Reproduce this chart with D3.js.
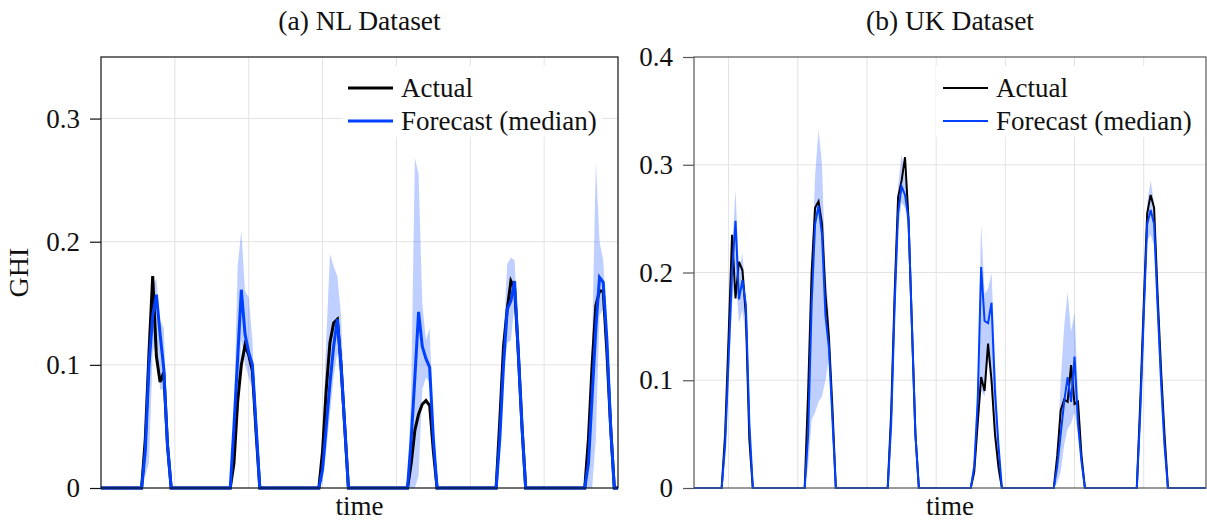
<!DOCTYPE html>
<html><head><meta charset="utf-8">
<script src="https://cdn.jsdelivr.net/npm/d3@7"></script>
<style>
body{margin:0;background:#fff}
svg{display:block}
text{font-family:"Liberation Serif","Times New Roman",serif;fill:#111}
</style>
</head><body>
<svg id="c" width="1207" height="521"></svg>
<script>
// ---------------- DATA ----------------
const legendLabels = ["Actual", "Forecast (median)"];
const xLabel = "time";
const yLabel = "GHI";

// NL dataset: hourly time axis, daylight segments (values after each zero start hour)
const nlTitle = "(a) NL Dataset";
const nlHours = [0, 140];
const nlXGrid = [20, 40, 60, 80, 100, 120];
const nlYTicks = [0, 0.1, 0.2, 0.3];
const nlYMax = 0.35;
const nlDayStart = [11, 35, 59, 83, 107, 131];
const nlActual = [
  [0.04, 0.11, 0.172, 0.107, 0.086, 0.094, 0.035],
  [0.02, 0.07, 0.10, 0.116, 0.108, 0.095, 0.045],
  [0.03, 0.08, 0.118, 0.134, 0.137, 0.10, 0.05],
  [0.02, 0.047, 0.06, 0.068, 0.071, 0.067, 0.03],
  [0.055, 0.115, 0.145, 0.168, 0.162, 0.11, 0.05],
  [0.04, 0.10, 0.148, 0.16, 0.16, 0.11, 0.05]
];
const nlMedian = [
  [0.03, 0.10, 0.14, 0.157, 0.125, 0.097, 0.035],
  [0.05, 0.105, 0.161, 0.125, 0.11, 0.10, 0.05],
  [0.015, 0.05, 0.085, 0.115, 0.137, 0.10, 0.05],
  [0.04, 0.09, 0.143, 0.115, 0.105, 0.098, 0.04],
  [0.04, 0.10, 0.145, 0.152, 0.168, 0.11, 0.05],
  [0.02, 0.075, 0.13, 0.171, 0.167, 0.12, 0.05]
];
const nlLower = [
  [0.01, 0.02, 0.11, 0.12, 0.08, 0.08, 0.02],
  [0.02, 0.06, 0.12, 0.10, 0.09, 0.08, 0.03],
  [0.005, 0.03, 0.06, 0.09, 0.11, 0.08, 0.03],
  [0.0, 0.0, 0.01, 0.08, 0.09, 0.085, 0.03],
  [0.03, 0.09, 0.118, 0.12, 0.15, 0.10, 0.04],
  [0.0, 0.0, 0.04, 0.14, 0.145, 0.10, 0.03]
];
const nlUpper = [
  [0.04, 0.13, 0.165, 0.17, 0.136, 0.13, 0.04],
  [0.06, 0.18, 0.209, 0.16, 0.155, 0.12, 0.05],
  [0.04, 0.12, 0.19, 0.18, 0.172, 0.14, 0.06],
  [0.08, 0.268, 0.255, 0.15, 0.12, 0.13, 0.05],
  [0.06, 0.12, 0.182, 0.187, 0.185, 0.12, 0.05],
  [0.04, 0.12, 0.265, 0.20, 0.185, 0.13, 0.05]
];

// UK dataset
const ukTitle = "(b) UK Dataset";
const ukHours = [0, 148];
const ukXGrid = [10, 30, 50, 70, 90, 110, 130];
const ukYTicks = [0, 0.1, 0.2, 0.3, 0.4];
const ukYMax = 0.4;
const ukDayStart = [8, 32, 56, 80, 104, 128];
const ukActual = [
  [0.05, 0.14, 0.235, 0.176, 0.21, 0.202, 0.16, 0.045],
  [0.09, 0.20, 0.26, 0.266, 0.245, 0.18, 0.14, 0.075],
  [0.07, 0.18, 0.27, 0.285, 0.307, 0.25, 0.15, 0.05],
  [0.015, 0.06, 0.103, 0.09, 0.134, 0.10, 0.05, 0.02],
  [0.03, 0.072, 0.082, 0.08, 0.114, 0.078, 0.08, 0.03],
  [0.08, 0.17, 0.255, 0.272, 0.26, 0.18, 0.11, 0.05]
];
const ukMedian = [
  [0.04, 0.12, 0.20, 0.248, 0.175, 0.193, 0.17, 0.06],
  [0.05, 0.17, 0.245, 0.262, 0.235, 0.16, 0.13, 0.065],
  [0.06, 0.17, 0.255, 0.28, 0.272, 0.25, 0.15, 0.05],
  [0.02, 0.08, 0.205, 0.155, 0.153, 0.172, 0.09, 0.04],
  [0.02, 0.05, 0.08, 0.103, 0.08, 0.122, 0.06, 0.025],
  [0.07, 0.16, 0.245, 0.258, 0.245, 0.17, 0.10, 0.04]
];
const ukLower = [
  [0.03, 0.10, 0.17, 0.20, 0.153, 0.165, 0.14, 0.03],
  [0.02, 0.063, 0.07, 0.08, 0.085, 0.10, 0.12, 0.05],
  [0.05, 0.16, 0.24, 0.265, 0.26, 0.24, 0.14, 0.04],
  [0.01, 0.05, 0.09, 0.085, 0.12, 0.09, 0.04, 0.01],
  [0.005, 0.015, 0.04, 0.055, 0.06, 0.07, 0.05, 0.02],
  [0.06, 0.14, 0.23, 0.235, 0.225, 0.15, 0.08, 0.03]
];
const ukUpper = [
  [0.05, 0.14, 0.22, 0.277, 0.20, 0.218, 0.175, 0.06],
  [0.10, 0.20, 0.29, 0.332, 0.30, 0.20, 0.16, 0.075],
  [0.07, 0.20, 0.28, 0.31, 0.29, 0.26, 0.16, 0.06],
  [0.03, 0.10, 0.245, 0.18, 0.185, 0.20, 0.12, 0.05],
  [0.03, 0.10, 0.15, 0.182, 0.145, 0.163, 0.09, 0.04],
  [0.09, 0.18, 0.265, 0.285, 0.265, 0.19, 0.12, 0.05]
];

// ---------------- BUILD ----------------
function expand(range, starts, segs) {
  const out = [];
  for (let h = range[0]; h <= range[1]; h++) out.push({h: h, v: 0});
  starts.forEach((s, i) => {
    segs[i].forEach((v, k) => {
      const idx = s + 1 + k - range[0];
      if (idx >= 0 && idx < out.length) out[idx].v = v;
    });
  });
  return out;
}

const svg = d3.select("#c");
const BLUE = "#0040ff";

const panels = [
  {title: nlTitle, hours: nlHours, xGrid: nlXGrid, yTicks: nlYTicks, yMax: nlYMax,
   starts: nlDayStart, actual: nlActual, median: nlMedian, lower: nlLower, upper: nlUpper,
   left: 101, right: 618, top: 57, bottom: 488, lw: 3, frame: "#111", showY: true,
   legend: {x0: 343, x1: 602, lineX: 348, lineW: 45}},
  {title: ukTitle, hours: ukHours, xGrid: ukXGrid, yTicks: ukYTicks, yMax: ukYMax,
   starts: ukDayStart, actual: ukActual, median: ukMedian, lower: ukLower, upper: ukUpper,
   left: 694, right: 1206, top: 57, bottom: 488, lw: 2, frame: "#555", showY: false,
   legend: {x0: 936, x1: 1205, lineX: 943, lineW: 45}}
];

panels.forEach((p, pi) => {
  const x = d3.scaleLinear().domain(p.hours).range([p.left, p.right]);
  const y = d3.scaleLinear().domain([0, p.yMax]).range([p.bottom, p.top]);
  const g = svg.append("g");
  const clipId = "clip" + pi;
  svg.append("clipPath").attr("id", clipId).append("rect")
    .attr("x", p.left).attr("y", p.top - 2).attr("width", p.right - p.left).attr("height", p.bottom - p.top + 4);

  // grid
  g.append("g").selectAll("line.hg").data(p.yTicks.filter(d => d > 0 && d < p.yMax)).join("line")
    .attr("x1", p.left).attr("x2", p.right).attr("y1", d => y(d)).attr("y2", d => y(d))
    .attr("stroke", "#e3e3e3").attr("stroke-width", 1);
  g.append("g").selectAll("line.vg").data(p.xGrid).join("line")
    .attr("x1", d => x(d)).attr("x2", d => x(d)).attr("y1", p.top).attr("y2", p.bottom)
    .attr("stroke", "#e3e3e3").attr("stroke-width", 1);

  const act = expand(p.hours, p.starts, p.actual);
  const med = expand(p.hours, p.starts, p.median);
  const lo = expand(p.hours, p.starts, p.lower);
  const up = expand(p.hours, p.starts, p.upper);
  const band = lo.map((d, i) => ({h: d.h, lo: d.v, up: up[i].v}));

  const plot = g.append("g").attr("clip-path", `url(#${clipId})`);
  plot.append("path").datum(band)
    .attr("d", d3.area().x(d => x(d.h)).y0(d => y(d.lo)).y1(d => y(d.up)))
    .attr("fill", BLUE).attr("fill-opacity", 0.25).attr("stroke", "none");
  const line = d3.line().x(d => x(d.h)).y(d => y(d.v));
  plot.append("path").datum(act).attr("d", line)
    .attr("fill", "none").attr("stroke", "#000").attr("stroke-width", p.lw).attr("stroke-linejoin", "miter");
  plot.append("path").datum(med).attr("d", line)
    .attr("fill", "none").attr("stroke", BLUE).attr("stroke-width", p.lw).attr("stroke-linejoin", "miter");

  // frame
  g.append("rect").attr("x", p.left).attr("y", p.top).attr("width", p.right - p.left).attr("height", p.bottom - p.top)
    .attr("fill", "none").attr("stroke", p.frame).attr("stroke-width", 1.2);

  // y axis
  const yAxis = d3.axisLeft(y).tickValues(p.yTicks).tickSize(11).tickSizeOuter(0).tickPadding(10)
    .tickFormat(d => d === 0 ? "0" : d3.format(".1f")(d));
  const ya = g.append("g").attr("transform", `translate(${p.left},0)`).call(yAxis);
  ya.select(".domain").remove();
  ya.selectAll(".tick line").attr("stroke", p.frame).attr("stroke-width", 1.2);
  ya.selectAll(".tick text").attr("font-size", 27).attr("font-family", "'Liberation Serif',serif").attr("fill", "#111");

  // titles
  const cx = (p.left + p.right) / 2;
  g.append("text").attr("x", cx).attr("y", 30).attr("text-anchor", "middle").attr("font-size", 27.5).text(p.title);
  g.append("text").attr("x", cx).attr("y", 515).attr("text-anchor", "middle").attr("font-size", 27).text(xLabel);
  if (p.showY) {
    g.append("text").attr("transform", `translate(28,${(p.top + p.bottom) / 2}) rotate(-90)`)
      .attr("text-anchor", "middle").attr("font-size", 28).text(yLabel);
  }

  // legend
  const L = p.legend;
  g.append("rect").attr("x", L.x0).attr("y", 66).attr("width", L.x1 - L.x0).attr("height", 71).attr("fill", "#fff");
  const cols = ["#000", BLUE];
  legendLabels.forEach((lab, i) => {
    const ly = 88 + i * 33;
    g.append("line").attr("x1", L.lineX).attr("x2", L.lineX + L.lineW).attr("y1", ly).attr("y2", ly)
      .attr("stroke", cols[i]).attr("stroke-width", p.lw);
    g.append("text").attr("x", L.lineX + L.lineW + 8).attr("y", ly + 9).attr("font-size", 27).text(lab);
  });
});
</script>
</body></html>
